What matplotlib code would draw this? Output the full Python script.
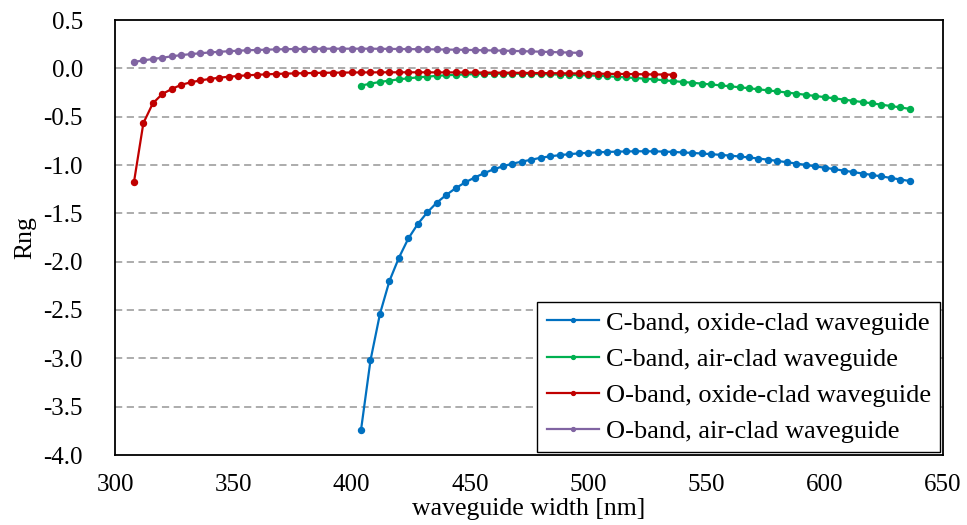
import matplotlib
matplotlib.use("Agg")
import matplotlib.pyplot as plt
import numpy as np

plt.rcParams['font.family'] = ['Liberation Serif', 'DejaVu Serif']

# ---- data ----
x_c = list(range(404, 637, 4))
c_oxide = [-3.74, -3.02, -2.54, -2.20, -1.96, -1.76, -1.61, -1.49, -1.39, -1.31,
           -1.24, -1.18, -1.13, -1.085, -1.045, -1.013, -0.986, -0.965, -0.945, -0.925,
           -0.91, -0.898, -0.888, -0.88, -0.874, -0.869, -0.865, -0.862, -0.86, -0.858,
           -0.858, -0.859, -0.861, -0.865, -0.87, -0.875, -0.881, -0.888, -0.895, -0.903,
           -0.912, -0.922, -0.933, -0.945, -0.958, -0.971, -0.985, -0.999, -1.014, -1.028,
           -1.043, -1.058, -1.073, -1.088, -1.103, -1.118, -1.134, -1.15, -1.166]
c_air = [-0.179, -0.158, -0.141, -0.127, -0.114, -0.103, -0.094, -0.086, -0.078, -0.072,
         -0.067, -0.063, -0.06, -0.058, -0.057, -0.056, -0.056, -0.057, -0.058, -0.06,
         -0.062, -0.065, -0.068, -0.07, -0.072, -0.077, -0.082, -0.088, -0.094, -0.1,
         -0.107, -0.114, -0.124, -0.132, -0.141, -0.149, -0.158, -0.167, -0.176, -0.186,
         -0.196, -0.206, -0.217, -0.228, -0.239, -0.25, -0.262, -0.274, -0.286, -0.298,
         -0.31, -0.323, -0.336, -0.349, -0.362, -0.376, -0.39, -0.404, -0.42]
x_o_oxide = list(range(308, 537, 4))
o_oxide = [-1.18, -0.566, -0.362, -0.265, -0.214, -0.17, -0.145, -0.125, -0.11, -0.097,
           -0.087, -0.079, -0.072, -0.067, -0.062, -0.058, -0.055, -0.052, -0.05, -0.048,
           -0.046, -0.045, -0.044, -0.043, -0.042, -0.042, -0.041, -0.041, -0.041, -0.041,
           -0.041, -0.041, -0.042, -0.042, -0.042, -0.043, -0.043, -0.044, -0.045, -0.045,
           -0.046, -0.047, -0.048, -0.049, -0.05, -0.051, -0.052, -0.053, -0.054, -0.055,
           -0.057, -0.058, -0.059, -0.06, -0.062, -0.063, -0.064, -0.066]
x_o_air = list(range(308, 497, 4))
o_air = [0.065, 0.083, 0.096, 0.11, 0.124, 0.137, 0.147, 0.156, 0.164, 0.171,
         0.177, 0.182, 0.187, 0.19, 0.193, 0.196, 0.198, 0.2, 0.201, 0.202,
         0.203, 0.203, 0.203, 0.203, 0.203, 0.203, 0.202, 0.201, 0.2, 0.199,
         0.198, 0.197, 0.196, 0.194, 0.193, 0.191, 0.189, 0.187, 0.185, 0.183,
         0.18, 0.178, 0.175, 0.172, 0.169, 0.166, 0.163, 0.16]

labels = ["C-band, oxide-clad waveguide", "C-band, air-clad waveguide",
          "O-band, oxide-clad waveguide", "O-band, air-clad waveguide"]
colors = ["#0070C0", "#00B050", "#C00000", "#8064A2"]
x_ticks = [300, 350, 400, 450, 500, 550, 600, 650]
y_ticks = [0.5, 0.0, -0.5, -1.0, -1.5, -2.0, -2.5, -3.0, -3.5, -4.0]

fig = plt.figure(figsize=(9.67, 5.25), dpi=100)
ax = fig.add_axes([115/967, 1-455/525, (943-115)/967, (455-20)/525])

series = [(x_c, c_oxide), (x_c, c_air), (x_o_oxide, o_oxide), (x_o_air, o_air)]
for (xs, ys), lab, col in zip(series, labels, colors):
    ax.plot(xs, ys, '-o', color=col, lw=1.6, ms=4.3, label=lab, zorder=3)

ax.set_xlim(300, 650)
ax.set_ylim(-4.0, 0.5)
ax.set_xticks(x_ticks)
ax.set_yticks(y_ticks)
ax.set_yticklabels([f"{v:.1f}" for v in y_ticks])
ax.tick_params(length=0, labelsize=18)
ax.tick_params(axis='x', pad=14)
ax.tick_params(axis='y', pad=23)
for y in y_ticks[1:-1]:
    ax.axhline(y, color='#A6A6A6', lw=1.3, ls=(0, (4, 2.5)), zorder=1)
for s in ax.spines.values():
    s.set_color('black')
    s.set_linewidth(1.3)

ax.set_xlabel("waveguide width [nm]", fontsize=18.5, labelpad=1)
ax.set_ylabel("Rng", fontsize=18.5, labelpad=5)

leg = ax.legend(loc='lower right', fontsize=19, frameon=True, fancybox=False,
                borderaxespad=0.1, handlelength=2.0, markerscale=0.65,
                labelspacing=0.48, handletextpad=0.25, borderpad=0.35)
leg.get_frame().set_edgecolor('black')
leg.get_frame().set_linewidth(1.0)
leg.get_frame().set_alpha(1)
leg.set_zorder(5)

fig.savefig("out.png", dpi=100)
